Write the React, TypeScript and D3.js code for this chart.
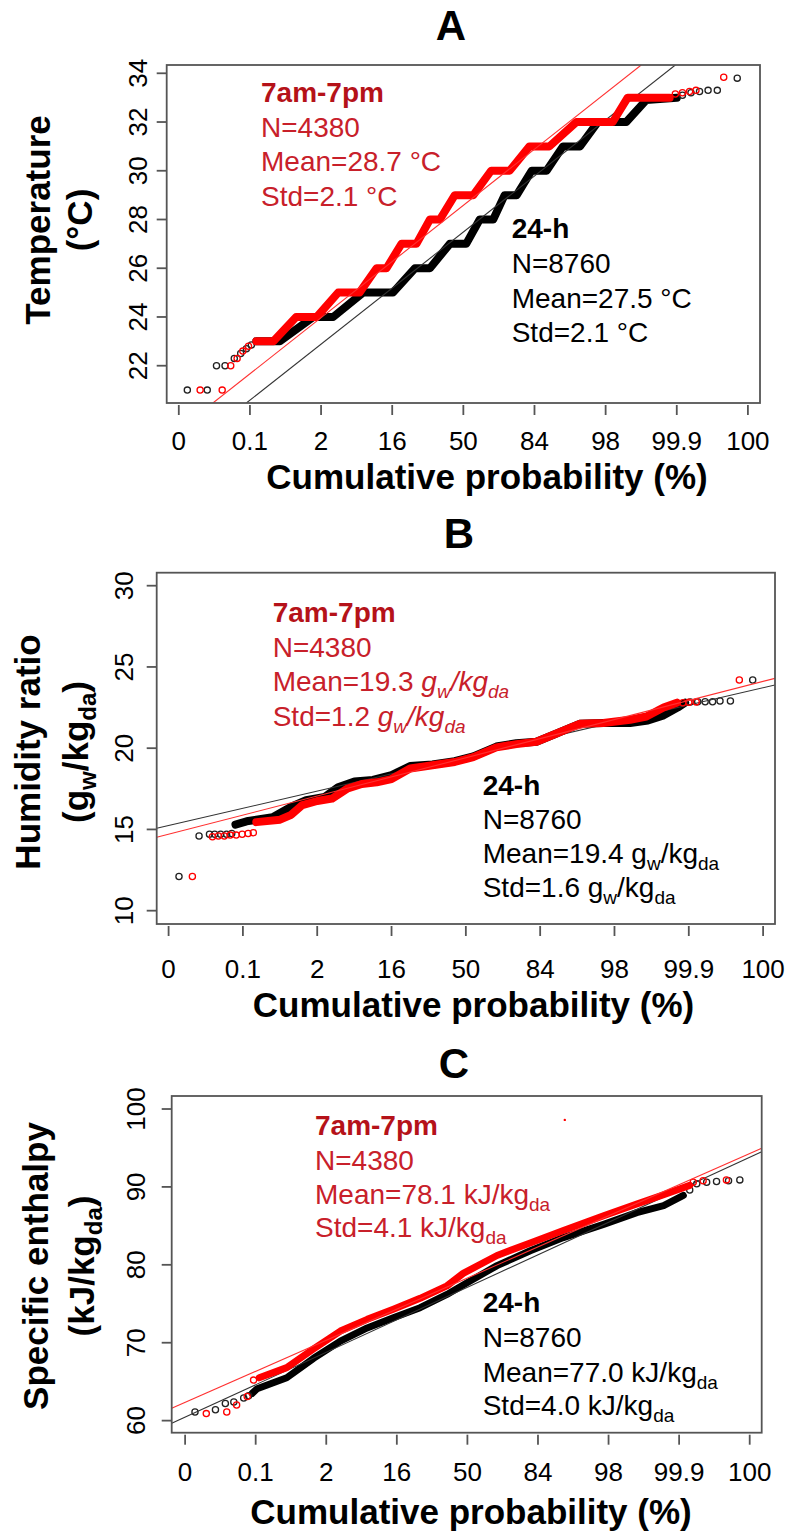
import React from "react";
import * as d3 from "d3";

type P = [number, number];
type Seg = { t: string; it?: boolean; sub?: boolean };

// ---------- shared x axis (normal probability scale, in sigma units) ----------
const probTickZ = [-4, -3, -2, -1, 0, 1, 2, 3, 4];
const probTickLabels = ["0", "0.1", "2", "16", "50", "84", "98", "99.9", "100"];

// ---------- Panel A: temperature ----------
const tempTicks = [22, 24, 26, 28, 30, 32, 34];
const temp24hBand: P[] = [
  [-2.91, 23], [-2.58, 23], [-2.11, 24], [-1.83, 24], [-1.41, 25], [-0.99, 25],
  [-0.68, 26], [-0.47, 26], [-0.19, 27], [0.04, 27], [0.23, 28], [0.42, 28],
  [0.58, 29], [0.75, 29], [0.96, 30], [1.17, 30], [1.4, 31], [1.64, 31],
  [1.89, 32], [2.29, 32], [2.57, 32.9], [3.0, 33.0],
];
const temp24hPoints: P[] = [
  [-3.88, 21], [-3.6, 21], [-3.47, 22], [-3.35, 22], [-3.22, 22.3], [-3.13, 22.5],
  [-3.05, 22.7], [-2.98, 22.85], [3.08, 33.1], [3.2, 33.2], [3.32, 33.25],
  [3.44, 33.3], [3.57, 33.3], [3.85, 33.8],
];
const temp7to7Band: P[] = [
  [-2.91, 23], [-2.67, 23], [-2.35, 24], [-2.06, 24], [-1.76, 25], [-1.46, 25],
  [-1.22, 26], [-1.08, 26], [-0.87, 27], [-0.66, 27], [-0.47, 28], [-0.33, 28],
  [-0.12, 29], [0.14, 29], [0.39, 30], [0.65, 30], [0.93, 31], [1.21, 31],
  [1.59, 32], [2.1, 32], [2.31, 33], [2.9, 33],
];
const temp7to7Points: P[] = [
  [-3.7, 21], [-3.39, 21], [-3.27, 22], [-3.18, 22.3], [-3.1, 22.6], [-3.02, 22.8],
  [2.98, 33.15], [3.08, 33.2], [3.18, 33.25], [3.27, 33.3], [3.66, 33.84],
];
const temp24hFit: P[] = [[-3.05, 20.47], [2.98, 34.34]];
const temp7to7Fit: P[] = [[-3.52, 20.47], [2.5, 34.34]];

// ---------- Panel B: humidity ratio ----------
const humTicks = [10, 15, 20, 25, 30];
const hum24hBand: P[] = [
  [-3.1, 15.3], [-2.95, 15.5], [-2.6, 15.75], [-2.35, 16.4], [-2.15, 16.8],
  [-1.9, 17.0], [-1.72, 17.6], [-1.5, 17.95], [-1.25, 18.05], [-1.0, 18.35],
  [-0.75, 18.9], [-0.45, 19.0], [-0.15, 19.2], [0.1, 19.5], [0.41, 20.1],
  [0.68, 20.3], [0.95, 20.4], [1.22, 20.9], [1.53, 21.5], [1.85, 21.55],
  [2.21, 21.55], [2.45, 21.7], [2.65, 22.0], [2.85, 22.5], [2.95, 22.8],
];
const hum24hPoints: P[] = [
  [-3.86, 12.1], [-3.59, 14.6], [-3.45, 14.7], [-3.38, 14.7], [-3.3, 14.7],
  [-3.22, 14.7], [-3.15, 14.75], [3.02, 22.85], [3.12, 22.86], [3.22, 22.86],
  [3.32, 22.86], [3.42, 22.9], [3.56, 22.9], [3.86, 24.2],
];
const hum7to7Band: P[] = [
  [-2.82, 15.45], [-2.5, 15.6], [-2.35, 15.9], [-2.2, 16.5], [-2.0, 16.75],
  [-1.8, 16.9], [-1.6, 17.5], [-1.4, 17.8], [-1.2, 17.9], [-1.0, 18.1],
  [-0.75, 18.75], [-0.45, 18.95], [-0.15, 19.15], [0.1, 19.45], [0.41, 20.05],
  [0.68, 20.25], [0.95, 20.4], [1.22, 20.9], [1.53, 21.5], [1.85, 21.55],
  [2.21, 21.75], [2.43, 21.95], [2.66, 22.5], [2.84, 22.8],
];
const hum7to7Points: P[] = [
  [-3.68, 12.1], [-3.41, 14.55], [-3.33, 14.6], [-3.25, 14.6], [-3.17, 14.65],
  [-3.09, 14.65], [-3.01, 14.7], [-2.93, 14.75], [-2.86, 14.8],
  [2.92, 22.8], [3.0, 22.82], [3.1, 22.85], [3.68, 24.2],
];
const hum24hFit: P[] = [[-4.16, 15.07], [4.16, 23.89]];
const hum7to7Fit: P[] = [[-4.16, 14.52], [4.16, 24.3]];

// ---------- Panel C: specific enthalpy ----------
const enthTicks = [60, 70, 80, 90, 100];
const enth24hBand: P[] = [
  [-3.05, 63.5], [-2.98, 64.1], [-2.56, 65.5], [-2.18, 68.0], [-1.8, 70.2],
  [-1.42, 71.9], [-1.05, 73.2], [-0.67, 74.5], [-0.29, 76.2], [-0.06, 77.4],
  [0.42, 79.9], [0.89, 81.8], [1.36, 83.5], [1.93, 85.2], [2.4, 86.7],
  [2.78, 87.6], [3.06, 88.9],
];
const enth24hPoints: P[] = [
  [-3.86, 61.1], [-3.57, 61.4], [-3.43, 62.2], [-3.31, 62.4], [-3.17, 62.9],
  [-3.1, 63.2], [3.15, 89.6], [3.25, 90.4], [3.39, 90.6], [3.53, 90.7],
  [3.7, 90.8], [3.86, 90.9],
];
const enth7to7Band: P[] = [
  [-2.95, 65.5], [-2.56, 66.8], [-2.18, 69.2], [-1.8, 71.5], [-1.42, 73.0],
  [-1.05, 74.3], [-0.67, 75.7], [-0.29, 77.3], [-0.06, 78.9], [0.42, 81.2],
  [0.89, 82.8], [1.36, 84.4], [1.93, 86.3], [2.4, 87.8], [2.78, 89.0],
  [3.15, 90.2],
];
const enth7to7Points: P[] = [
  [-3.7, 60.9], [-3.41, 61.1], [-3.27, 62.0], [-3.12, 63.1], [-3.03, 65.2],
  [3.2, 90.6], [3.34, 90.8], [3.67, 90.9],
];
const enth7to7Stray: P[] = [[1.38, 98.6]];
const enth24hFit: P[] = [[-4.19, 59.65], [4.17, 94.5]];
const enth7to7Fit: P[] = [[-4.19, 61.58], [4.17, 94.95]];

// ---------- Texts ----------
const legendA7: Seg[][] = [[{ t: "7am-7pm" }], [{ t: "N=4380" }], [{ t: "Mean=28.7 °C" }], [{ t: "Std=2.1 °C" }]];
const legendA24: Seg[][] = [[{ t: "24-h" }], [{ t: "N=8760" }], [{ t: "Mean=27.5 °C" }], [{ t: "Std=2.1 °C" }]];
const legendB7: Seg[][] = [
  [{ t: "7am-7pm" }], [{ t: "N=4380" }],
  [{ t: "Mean=19.3 " }, { t: "g", it: true }, { t: "w", it: true, sub: true }, { t: "/kg", it: true }, { t: "da", it: true, sub: true }],
  [{ t: "Std=1.2 " }, { t: "g", it: true }, { t: "w", it: true, sub: true }, { t: "/kg", it: true }, { t: "da", it: true, sub: true }],
];
const legendB24: Seg[][] = [
  [{ t: "24-h" }], [{ t: "N=8760" }],
  [{ t: "Mean=19.4 g" }, { t: "w", sub: true }, { t: "/kg" }, { t: "da", sub: true }],
  [{ t: "Std=1.6 g" }, { t: "w", sub: true }, { t: "/kg" }, { t: "da", sub: true }],
];
const legendC7: Seg[][] = [
  [{ t: "7am-7pm" }], [{ t: "N=4380" }],
  [{ t: "Mean=78.1 kJ/kg" }, { t: "da", sub: true }],
  [{ t: "Std=4.1 kJ/kg" }, { t: "da", sub: true }],
];
const legendC24: Seg[][] = [
  [{ t: "24-h" }], [{ t: "N=8760" }],
  [{ t: "Mean=77.0 kJ/kg" }, { t: "da", sub: true }],
  [{ t: "Std=4.0 kJ/kg" }, { t: "da", sub: true }],
];
const yTitleA: Seg[][] = [[{ t: "Temperature" }], [{ t: "(°C)" }]];
const yTitleB: Seg[][] = [[{ t: "Humidity ratio" }], [{ t: "(g" }, { t: "w", sub: true }, { t: "/kg" }, { t: "da", sub: true }, { t: ")" }]];
const yTitleC: Seg[][] = [[{ t: "Specific enthalpy" }], [{ t: "(kJ/kg" }, { t: "da", sub: true }, { t: ")" }]];
const xTitle = "Cumulative probability (%)";

const FONT = "'Liberation Sans', Arial, Helvetica, sans-serif";
const RED = "#ff0000";
const RED_TEXT = "#c8202a";
const RED_TEXT_BOLD = "#b51219";
const AXIS = "#555";

function renderSegs(segs: Seg[], size: number, subSize: number, shift: number) {
  let prevSub = false;
  return segs.map((s, i) => {
    const sub = !!s.sub;
    let dy = 0;
    if (sub && !prevSub) dy = shift;
    if (!sub && prevSub) dy = -shift;
    prevSub = sub;
    return (
      <tspan key={i} dy={dy} fontSize={sub ? subSize : size} fontStyle={s.it ? "italic" : "normal"}>
        {s.t}
      </tspan>
    );
  });
}

type Layout = {
  left: number; right: number; top: number; bottom: number;
  zDomain: [number, number]; yDomain: [number, number];
  title: string; titleX: number; titleY: number;
  xTitleX: number; xTitleY: number; xLabelY: number; yLabelX: number;
  yTitleY: number; yTitleX: [number, number];
  redLegend: { x: number; ys: number[] }; blackLegend: { x: number; ys: number[] };
  band: number;
};

type PanelProps = {
  id: string; L: Layout; yTicks: number[];
  band24: P[]; pts24: P[]; fit24: P[];
  band7: P[]; pts7: P[]; fit7: P[]; stray7?: P[];
  leg7: Seg[][]; leg24: Seg[][]; yTitle: Seg[][];
};

function Panel({ id, L, yTicks, band24, pts24, fit24, band7, pts7, fit7, stray7, leg7, leg24, yTitle }: PanelProps) {
  const x = d3.scaleLinear().domain(L.zDomain).range([L.left, L.right]);
  const y = d3.scaleLinear().domain(L.yDomain).range([L.bottom, L.top]);
  const line = d3.line<P>().x((d) => x(d[0])).y((d) => y(d[1]));
  const clip = `clip-${id}`;
  return (
    <g>
      <defs>
        <clipPath id={clip}>
          <rect x={L.left} y={L.top} width={L.right - L.left} height={L.bottom - L.top} />
        </clipPath>
      </defs>
      <text x={L.titleX} y={L.titleY} textAnchor="middle" fontSize={42} fontWeight="bold" fontFamily={FONT} fill="#000">
        {L.title}
      </text>
      <g clipPath={`url(#${clip})`}>
        <path d={line(band24) || ""} fill="none" stroke="#000" strokeWidth={L.band} strokeLinejoin="round" strokeLinecap="round" />
        {pts24.map((p, i) => (
          <circle key={"b" + i} cx={x(p[0])} cy={y(p[1])} r={3.1} fill="none" stroke="#222" strokeWidth={1.3} />
        ))}
        <path d={line(fit24) || ""} fill="none" stroke="#333" strokeWidth={1.1} />
        <path d={line(band7) || ""} fill="none" stroke={RED} strokeWidth={L.band} strokeLinejoin="round" strokeLinecap="round" />
        {pts7.map((p, i) => (
          <circle key={"r" + i} cx={x(p[0])} cy={y(p[1])} r={3.1} fill="none" stroke={RED} strokeWidth={1.3} />
        ))}
        {(stray7 || []).map((p, i) => (
          <circle key={"s" + i} cx={x(p[0])} cy={y(p[1])} r={1.2} fill={RED} />
        ))}
        <path d={line(fit7) || ""} fill="none" stroke="#ff3030" strokeWidth={1.1} />
      </g>
      <rect x={L.left} y={L.top} width={L.right - L.left} height={L.bottom - L.top} fill="none" stroke={AXIS} strokeWidth={1.8} />
      {probTickZ.map((z, i) => (
        <g key={"xt" + i}>
          <line x1={x(z)} x2={x(z)} y1={L.bottom + 2} y2={L.bottom + 12} stroke={AXIS} strokeWidth={1.8} />
          <text x={x(z)} y={L.xLabelY} textAnchor="middle" fontSize={26} fontFamily={FONT} fill="#000">
            {probTickLabels[i]}
          </text>
        </g>
      ))}
      <text x={L.xTitleX} y={L.xTitleY} textAnchor="middle" fontSize={35} fontWeight="bold" fontFamily={FONT} fill="#000">
        {xTitle}
      </text>
      {yTicks.map((v) => (
        <g key={"yt" + v}>
          <line x1={L.left - 10} x2={L.left} y1={y(v)} y2={y(v)} stroke={AXIS} strokeWidth={1.8} />
          <text transform={`translate(${L.yLabelX},${y(v)}) rotate(-90)`} textAnchor="middle" fontSize={26} fontFamily={FONT} fill="#000">
            {v}
          </text>
        </g>
      ))}
      {yTitle.map((segs, i) => (
        <text key={"ytl" + i} transform={`translate(${L.yTitleX[i]},${L.yTitleY}) rotate(-90)`} textAnchor="middle" fontSize={35} fontWeight="bold" fontFamily={FONT} fill="#000">
          {renderSegs(segs, 35, 24, 8)}
        </text>
      ))}
      {leg7.map((segs, i) => (
        <text key={"l7" + i} x={L.redLegend.x} y={L.redLegend.ys[i]} fontSize={28} fontFamily={FONT}
          fontWeight={i === 0 ? "bold" : "normal"} fill={i === 0 ? RED_TEXT_BOLD : RED_TEXT}>
          {renderSegs(segs, 28, 19, 7)}
        </text>
      ))}
      {leg24.map((segs, i) => (
        <text key={"l24" + i} x={L.blackLegend.x} y={L.blackLegend.ys[i]} fontSize={28} fontFamily={FONT}
          fontWeight={i === 0 ? "bold" : "normal"} fill="#000">
          {renderSegs(segs, 28, 19, 7)}
        </text>
      ))}
    </g>
  );
}

const layoutA: Layout = {
  left: 166.7, right: 760, top: 65, bottom: 403,
  zDomain: [-4.17, 4.17], yDomain: [20.47, 34.34],
  title: "A", titleX: 451, titleY: 40,
  xTitleX: 487, xTitleY: 489, xLabelY: 450, yLabelX: 146.7,
  yTitleY: 220, yTitleX: [50, 92],
  redLegend: { x: 261, ys: [101.7, 136.7, 171, 205.7] },
  blackLegend: { x: 511.7, ys: [238.3, 273.3, 308.3, 341.7] },
  band: 8,
};
const layoutB: Layout = {
  left: 156.7, right: 775, top: 572.7, bottom: 924,
  zDomain: [-4.16, 4.16], yDomain: [9.18, 30.8],
  title: "B", titleX: 459, titleY: 548,
  xTitleX: 473.5, xTitleY: 1017, xLabelY: 978, yLabelX: 133,
  yTitleY: 752, yTitleX: [40, 88],
  redLegend: { x: 272.7, ys: [621.7, 656.7, 691, 725.7] },
  blackLegend: { x: 482.7, ys: [795, 829.3, 863.3, 897.3] },
  band: 8,
};
const layoutC: Layout = {
  left: 171.7, right: 761.7, top: 1096, bottom: 1432.7,
  zDomain: [-4.19, 4.17], yDomain: [58.45, 101.67],
  title: "C", titleX: 454, titleY: 1078,
  xTitleX: 471, xTitleY: 1524, xLabelY: 1481, yLabelX: 145,
  yTitleY: 1266, yTitleX: [48, 94],
  redLegend: { x: 315, ys: [1135, 1170, 1204, 1237.3] },
  blackLegend: { x: 482.7, ys: [1311.7, 1346.7, 1381.7, 1415] },
  band: 7,
};

export default function App() {
  return (
    <svg width={794} height={1538} viewBox="0 0 794 1538"
      style={{ position: "absolute", left: 0, top: 0, background: "#fff" }}>
      <rect x={0} y={0} width={794} height={1538} fill="#fff" />
      <Panel id="a" L={layoutA} yTicks={tempTicks}
        band24={temp24hBand} pts24={temp24hPoints} fit24={temp24hFit}
        band7={temp7to7Band} pts7={temp7to7Points} fit7={temp7to7Fit}
        leg7={legendA7} leg24={legendA24} yTitle={yTitleA} />
      <Panel id="b" L={layoutB} yTicks={humTicks}
        band24={hum24hBand} pts24={hum24hPoints} fit24={hum24hFit}
        band7={hum7to7Band} pts7={hum7to7Points} fit7={hum7to7Fit}
        leg7={legendB7} leg24={legendB24} yTitle={yTitleB} />
      <Panel id="c" L={layoutC} yTicks={enthTicks}
        band24={enth24hBand} pts24={enth24hPoints} fit24={enth24hFit}
        band7={enth7to7Band} pts7={enth7to7Points} fit7={enth7to7Fit} stray7={enth7to7Stray}
        leg7={legendC7} leg24={legendC24} yTitle={yTitleC} />
    </svg>
  );
}
